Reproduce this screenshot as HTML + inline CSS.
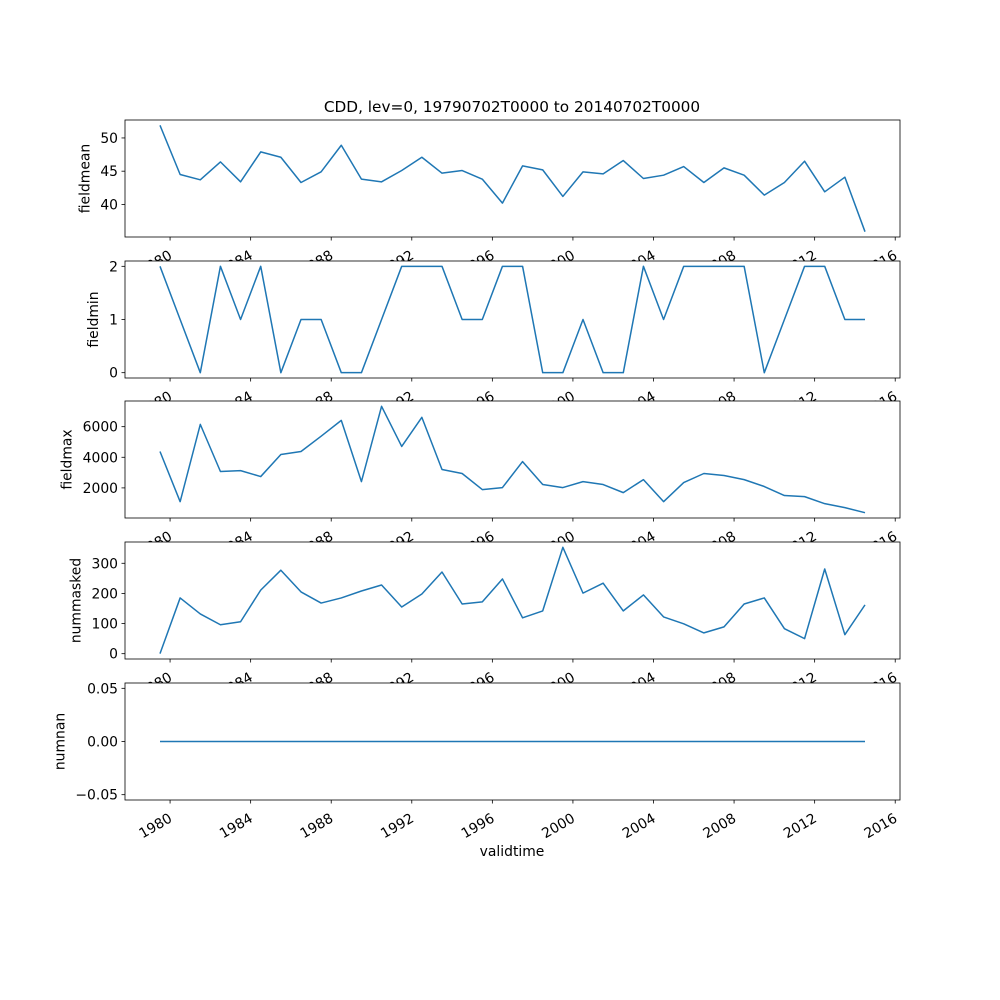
<!DOCTYPE html>
<html><head><meta charset="utf-8"><style>
html,body{margin:0;padding:0;background:#fff;}
svg{display:block;font-family:"DejaVu Sans","Liberation Sans",sans-serif;}
</style></head><body>
<svg id="chart" width="1000" height="1000" viewBox="0 0 1000 1000">
<rect width="1000" height="1000" fill="#fff"/>
<text x="512" y="112" font-size="15.3" text-anchor="middle">CDD, lev=0, 19790702T0000 to 20140702T0000</text>
<text x="512" y="856" font-size="13.9" text-anchor="middle">validtime</text>
</svg>
<script>
const years = [1979,1980,1981,1982,1983,1984,1985,1986,1987,1988,1989,1990,1991,1992,1993,1994,1995,1996,1997,1998,1999,2000,2001,2002,2003,2004,2005,2006,2007,2008,2009,2010,2011,2012,2013,2014];
const fieldmean = [51.9,44.5,43.7,46.4,43.4,47.9,47.1,43.3,44.9,48.9,43.8,43.4,45.1,47.1,44.7,45.1,43.8,40.2,45.8,45.2,41.2,44.9,44.6,46.6,43.9,44.4,45.7,43.3,45.5,44.4,41.4,43.3,46.5,41.9,44.1,35.9];
const fieldmin = [2,1,0,2,1,2,0,1,1,0,0,1,2,2,2,1,1,2,2,0,0,1,0,0,2,1,2,2,2,2,0,1,2,2,1,1];
const fieldmax = [4380,1100,6150,3070,3130,2740,4180,4380,5380,6410,2410,7330,4710,6610,3200,2940,1890,2020,3720,2220,2020,2410,2220,1690,2540,1100,2350,2940,2810,2540,2090,1500,1430,970,710,380];
const nummasked = [0,185,132,96,106,211,277,205,168,185,208,228,155,198,271,165,172,248,119,142,353,201,234,142,195,122,99,69,89,165,185,83,50,281,63,162];
const numnan = [0,0,0,0,0,0,0,0,0,0,0,0,0,0,0,0,0,0,0,0,0,0,0,0,0,0,0,0,0,0,0,0,0,0,0,0];
const xTickYears = [1980,1984,1988,1992,1996,2000,2004,2008,2012,2016];
const meanTicks = [40,45,50];
const minTicks = [0,1,2];
const maxTicks = [2000,4000,6000];
const maskTicks = [0,100,200,300];
const nanTicks = [-0.05,0,0.05];

const NS = 'http://www.w3.org/2000/svg';
const svg = document.getElementById('chart');
const L = 125, R = 900;
const X0 = 160, X1 = 865;
function xOfDec(d){ return X0 + (d - 1979.5) * (X1 - X0) / 35; }
function xOfYear(y){ return xOfDec(y + 0.5); }
function mk(tag, attrs, parent){
  const e = document.createElementNS(NS, tag);
  for (const k in attrs) e.setAttribute(k, attrs[k]);
  parent.appendChild(e); return e;
}
const panels = [
  {name:'fieldmean', data:fieldmean, ticks:meanTicks, top:120, fmt:v=>String(v)},
  {name:'fieldmin', data:fieldmin, ticks:minTicks, top:261, fmt:v=>String(v)},
  {name:'fieldmax', data:fieldmax, ticks:maxTicks, top:401, fmt:v=>String(v)},
  {name:'nummasked', data:nummasked, ticks:maskTicks, top:542, fmt:v=>String(v)},
  {name:'numnan', data:numnan, ticks:nanTicks, top:683, fmt:v=>(v<0?'\u2212':'')+Math.abs(v).toFixed(2), fixed:[-0.055,0.055]}
];
const H = 117;
panels.forEach(p => {
  let lo, hi;
  if (p.fixed){ lo = p.fixed[0]; hi = p.fixed[1]; }
  else {
    const mn = Math.min(...p.data), mx = Math.max(...p.data);
    const m = (mx - mn) * 0.05; lo = mn - m; hi = mx + m;
  }
  const bot = p.top + H;
  const yOf = v => bot - (v - lo) / (hi - lo) * H;
  const g = mk('g', {}, svg);
  
  
  const bg = mk('rect', {x:L, y:p.top, width:R-L, height:H, fill:'#fff'}, g);
  
  
  const pts = p.data.map((v,i) => xOfYear(years[i]).toFixed(2) + ',' + yOf(v).toFixed(2)).join(' ');
  const line = mk('polyline', {points:pts, fill:'none', stroke:'#1f77b4', 'stroke-width':1.5, 'stroke-linejoin':'round'}, g);
  
  
  const frame = mk('rect', {x:L, y:p.top, width:R-L, height:H, fill:'none', stroke:'#000', 'stroke-width':0.8}, g);
  
  
  let maxW = 0;
  p.ticks.forEach(t => {
    const y = yOf(t);
    mk('line', {x1:L-3.5, x2:L, y1:y, y2:y, stroke:'#000', 'stroke-width':0.8}, g);
    const tx = mk('text', {x:L-7, y:y+5, 'font-size':13.9, 'text-anchor':'end'}, g);
    tx.textContent = p.fmt(t);
    
    
    let w; try { w = tx.getComputedTextLength(); } catch(e){ w = 0; }
    if (!w) w = tx.textContent.length * 8.85;
    maxW = Math.max(maxW, w);
  });
  const lx = L - 7 - maxW - 11;
  const yl = mk('text', {transform:'translate(' + lx + ',' + (p.top + H/2) + ') rotate(-90)', 'font-size':13.9, 'text-anchor':'middle'}, g);
  yl.textContent = p.name;
  
  
  xTickYears.forEach(yr => {
    const x = xOfDec(yr);
    mk('line', {x1:x, x2:x, y1:bot, y2:bot+3.5, stroke:'#000', 'stroke-width':0.8}, g);
    const tx = mk('text', {transform:'translate(' + (x+3) + ',' + (bot+21) + ') rotate(-30)', 'font-size':13.9, 'text-anchor':'end'}, g);
    tx.textContent = String(yr);
    
    
  });
});
</script>
</body></html>
